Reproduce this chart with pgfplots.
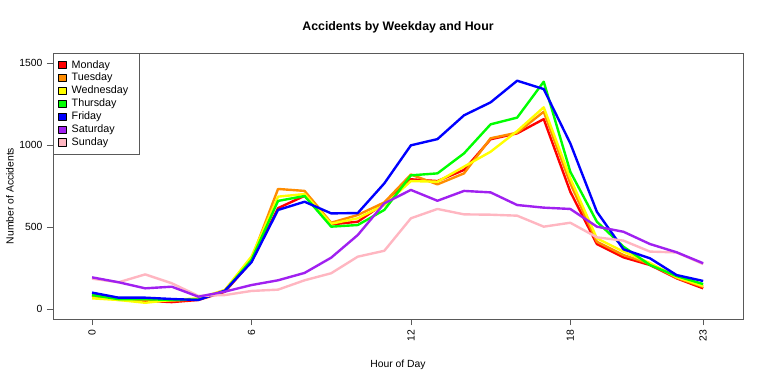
\documentclass[border=0pt]{standalone}
\usepackage{pgfplots}
\pgfplotsset{compat=1.18}
\usepackage{pgfplotstable}
\usepackage{fontspec}
\setmainfont{Liberation Sans}
\definecolor{cMon}{RGB}{255,0,0}
\definecolor{cTue}{RGB}{255,140,0}
\definecolor{cWed}{RGB}{255,255,0}
\definecolor{cThu}{RGB}{0,255,0}
\definecolor{cFri}{RGB}{0,0,255}
\definecolor{cSat}{RGB}{160,32,240}
\definecolor{cSun}{RGB}{255,182,193}
\pgfplotstableread{
h Mon Tue Wed Thu Fri Sat Sun
0 89 80 65 85 100 193 185
1 58 55 55 60 69 163 163
2 50 55 38 60 69 126 211
3 42 50 55 55 61 136 157
4 55 60 65 58 55 75 80
5 105 115 116 110 112 106 85
6 290 305 320 300 285 146 110
7 615 732 685 659 604 175 118
8 690 720 701 689 654 220 175
9 516 526 520 502 583 313 218
10 532 573 553 512 585 451 319
11 644 650 634 604 766 644 355
12 791 820 780 815 998 726 553
13 780 760 776 827 1036 660 610
14 848 827 868 949 1181 720 577
15 1035 1041 959 1126 1260 711 575
16 1071 1075 1085 1167 1392 634 569
17 1158 1203 1230 1386 1341 618 502
18 715 766 797 837 1010 610 526
19 396 410 431 532 593 502 437
20 315 329 350 380 364 471 417
21 268 275 280 268 309 396 350
22 187 190 195 201 207 346 345
23 126 135 140 152 171 279 274
}\data
\begin{document}
\begin{tikzpicture}
\begin{axis}[
  scale only axis,
  width=690bp, height=266bp,
  xmin=-1.47, xmax=24.5,
  ymin=-61, ymax=1561,
  xtick={0,6,12,18,23},
  ytick={0,500,1000,1500},
  axis line style={black!65, line width=0.6pt},
  tick style={black!65, line width=0.6pt},
  tick align=outside,
  major tick length=6bp,
  xtick pos=bottom, ytick pos=left,
  /pgf/number format/assume math mode=true,
  /pgf/number format/1000 sep={},
  tick label style={font=\fontsize{10.4}{12}\selectfont},
  xticklabel style={rotate=90, anchor=east, xshift=-1bp},
  yticklabel style={xshift=-1bp},
  every axis plot/.append style={line width=2.4pt, line join=round},
  legend cell align=left,
  legend style={at={(0,1)}, anchor=north west, draw=black!65, line width=0.6pt,
    font=\fontsize{10.8}{12}\selectfont, row sep=0.6bp, inner xsep=5bp, inner ysep=5.5bp,
    nodes={inner ysep=1.5bp, inner xsep=5.5bp}},
  legend image code/.code={\draw[#1, fill, line width=0.4pt, draw=black] (3.5bp,-3.6bp) rectangle (11bp,3.6bp);},
  clip=false,
]
\addplot[color=cMon] table[x=h,y=Mon]{\data};
\addlegendentry{Monday}
\addplot[color=cTue] table[x=h,y=Tue]{\data};
\addlegendentry{Tuesday}
\addplot[color=cWed] table[x=h,y=Wed]{\data};
\addlegendentry{Wednesday}
\addplot[color=cThu] table[x=h,y=Thu]{\data};
\addlegendentry{Thursday}
\addplot[color=cFri] table[x=h,y=Fri]{\data};
\addlegendentry{Friday}
\addlegendimage{color=cSat}
\addlegendentry{Saturday}
\addlegendimage{color=cSun}
\addlegendentry{Sunday}
\addplot[color=cSun, forget plot] table[x=h,y=Sun]{\data};
\addplot[color=cSat, forget plot] table[x=h,y=Sat]{\data};
\end{axis}
\node[font=\bfseries\fontsize{12.4}{14}\selectfont] at (345bp,292bp) {Accidents by Weekday and Hour};
\node[font=\fontsize{10.4}{12}\selectfont] at (345bp,-46bp) {Hour of Day};
\node[font=\fontsize{10.4}{12}\selectfont, rotate=90] at (-43bp,123bp) {Number of Accidents};
\pgfresetboundingbox
\path (-53bp,-66bp) rectangle (717bp,319bp);
\end{tikzpicture}
\end{document}
